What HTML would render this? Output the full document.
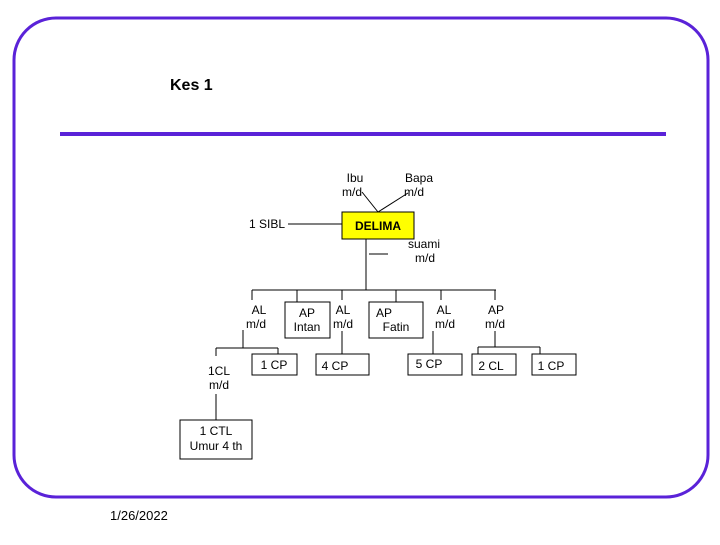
<!DOCTYPE html>
<html><head><style>
body{margin:0;background:#fff;}
svg text{font-family:"Liberation Sans",sans-serif;}
</style></head><body>
<svg width="720" height="540" viewBox="0 0 720 540" xmlns="http://www.w3.org/2000/svg">
<rect x="14" y="18" width="694" height="479" rx="42" fill="none" stroke="#5a22d8" stroke-width="3"/>
<text x="170" y="90" font-size="16" font-weight="bold">Kes 1</text>
<rect x="60" y="132" width="606" height="4" fill="#5a22d8"/>
<text x="110" y="520" font-size="13">1/26/2022</text>
<g stroke="#000" stroke-width="1" fill="none">
<line x1="362" y1="192" x2="378" y2="212"/>
<line x1="408" y1="193" x2="378" y2="212"/>
<line x1="288" y1="224" x2="342" y2="224"/>
<line x1="366" y1="239" x2="366" y2="290"/>
<line x1="369" y1="254" x2="388" y2="254"/>
<line x1="252" y1="290" x2="496" y2="290"/>
<line x1="252" y1="290" x2="252" y2="300"/>
<line x1="297" y1="290" x2="297" y2="302"/>
<line x1="342" y1="290" x2="342" y2="300"/>
<line x1="396" y1="290" x2="396" y2="302"/>
<line x1="441" y1="290" x2="441" y2="300"/>
<line x1="495" y1="290" x2="495" y2="300"/>
<rect x="285" y="302" width="45" height="36"/>
<rect x="369" y="302" width="54" height="36"/>
<line x1="243" y1="330" x2="243" y2="348"/>
<line x1="216" y1="348" x2="278" y2="348"/>
<line x1="278" y1="348" x2="278" y2="354"/>
<line x1="216" y1="348" x2="216" y2="356"/>
<line x1="216" y1="394" x2="216" y2="420"/>
<rect x="180" y="420" width="72" height="39"/>
<rect x="252" y="354" width="45" height="21"/>
<line x1="342" y1="331" x2="342" y2="354"/>
<rect x="316" y="354" width="53" height="21"/>
<line x1="433" y1="331" x2="433" y2="354"/>
<rect x="408" y="354" width="54" height="21"/>
<line x1="495" y1="331" x2="495" y2="347"/>
<line x1="478" y1="347" x2="540" y2="347"/>
<line x1="478" y1="347" x2="478" y2="354"/>
<line x1="540" y1="347" x2="540" y2="354"/>
<rect x="472" y="354" width="44" height="21"/>
<rect x="532" y="354" width="44" height="21"/>
</g>
<rect x="342" y="212" width="72" height="27" fill="#ffff00" stroke="#000"/>
<text x="378" y="230" font-size="12" font-weight="bold" text-anchor="middle">DELIMA</text>
<g font-size="12" text-anchor="middle" fill="#000">
<text x="355" y="182">Ibu</text><text x="352" y="196">m/d</text>
<text x="419" y="182">Bapa</text><text x="414" y="196">m/d</text>
<text x="267" y="228">1 SIBL</text>
<text x="424" y="248">suami</text><text x="425" y="262">m/d</text>
<text x="259" y="314">AL</text><text x="256" y="328">m/d</text>
<text x="307" y="317">AP</text><text x="307" y="331">Intan</text>
<text x="343" y="314">AL</text><text x="343" y="328">m/d</text>
<text x="384" y="317">AP</text><text x="396" y="331">Fatin</text>
<text x="444" y="314">AL</text><text x="445" y="328">m/d</text>
<text x="496" y="314">AP</text><text x="495" y="328">m/d</text>
<text x="219" y="375">1CL</text><text x="219" y="389">m/d</text>
<text x="274" y="369">1 CP</text>
<text x="335" y="370">4 CP</text>
<text x="429" y="368">5 CP</text>
<text x="491" y="370">2 CL</text>
<text x="551" y="370">1 CP</text>
<text x="216" y="435">1 CTL</text><text x="216" y="450">Umur 4 th</text>
</g>
</svg>
</body></html>
